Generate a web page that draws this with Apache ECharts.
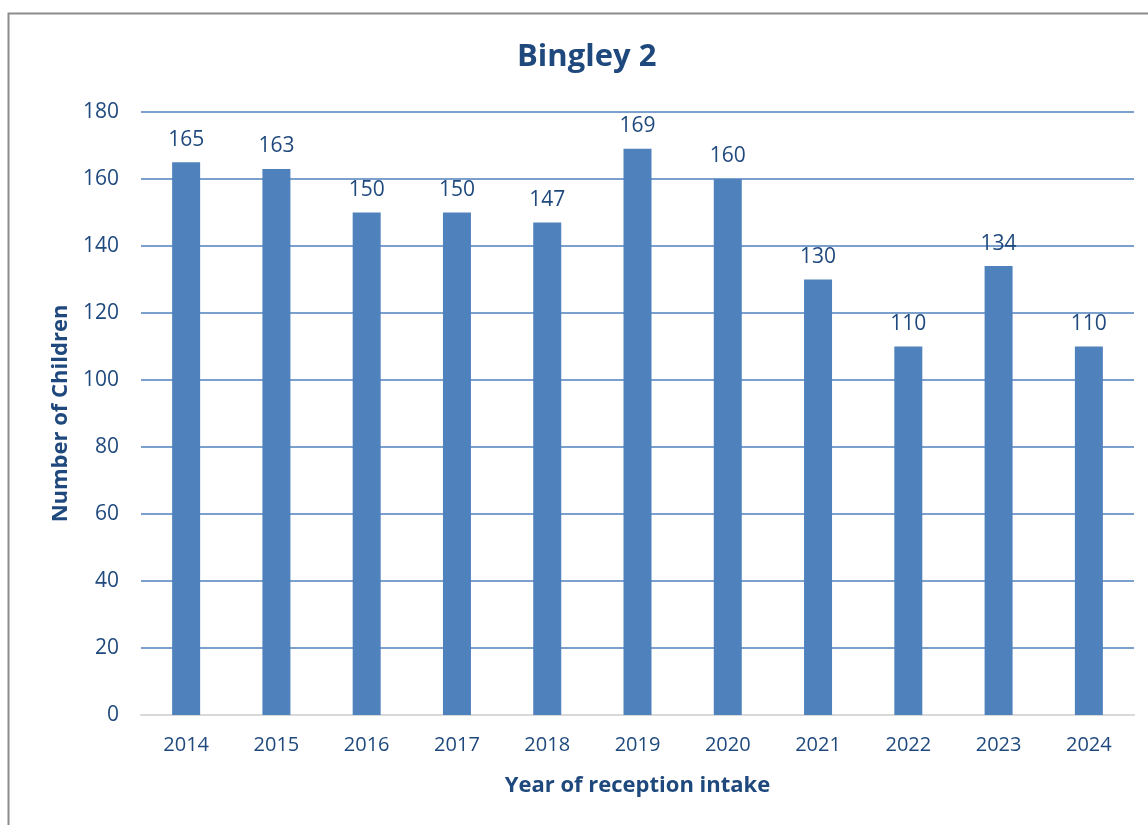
<!DOCTYPE html>
<html>
<head>
<meta charset="utf-8">
<script src="https://cdn.jsdelivr.net/npm/echarts@6/dist/echarts.min.js"></script>
<style>
  html, body { margin: 0; padding: 0; background: #fff; }
  #chart { width: 1148px; height: 825px; }
</style>
</head>
<body>
<div id="chart"></div>
<script>
// data
const years = ['2014', '2015', '2016', '2017', '2018', '2019', '2020', '2021', '2022', '2023', '2024'];
const children = [165, 163, 150, 150, 147, 169, 160, 130, 110, 134, 110];
const yTicks = [0, 20, 40, 60, 80, 100, 120, 140, 160, 180];

const textColor = '#1f497d';
const barColor = '#4f81bd';
const font = 'Open Sans';

const chart = echarts.init(document.getElementById('chart'));

const option = {
  backgroundColor: '#fff',
  animation: false,
  textStyle: { fontFamily: font },
  title: {
    text: 'Bingley 2',
    left: 512,
    top: 37,
    textStyle: { fontFamily: font, fontSize: 31, fontWeight: 'bold', color: textColor }
  },
  graphic: [
    {
      // outer chart frame (runs off the bottom and right edge)
      type: 'rect',
      shape: { x: 8.5, y: 13.5, width: 1200, height: 900 },
      style: { fill: null, stroke: '#8c8c8c', lineWidth: 2 },
      silent: true
    }
  ],
  grid: {
    left: 141,
    right: 14,
    top: 112,
    bottom: 110
  },
  xAxis: {
    type: 'category',
    data: years,
    name: 'Year of reception intake',
    nameLocation: 'middle',
    nameGap: 60,
    nameTextStyle: { fontFamily: font, fontSize: 22, fontWeight: 'bold', color: textColor },
    axisLine: { lineStyle: { color: '#d9d9d9', width: 2 } },
    axisTick: { show: false },
    axisLabel: { fontFamily: font, fontSize: 20, color: textColor, margin: 20 }
  },
  yAxis: {
    type: 'value',
    min: yTicks[0],
    max: yTicks[yTicks.length - 1],
    interval: yTicks[1] - yTicks[0],
    name: 'Number of Children',
    nameLocation: 'middle',
    nameGap: 69,
    nameTextStyle: { fontFamily: font, fontSize: 22, fontWeight: 'bold', color: textColor },
    axisLine: { show: false },
    axisTick: { show: false },
    axisLabel: { fontFamily: font, fontSize: 21, color: textColor, margin: 22 },
    splitLine: { lineStyle: { color: barColor, width: 1.5 } }
  },
  series: [
    {
      name: 'Children',
      type: 'bar',
      data: children,
      barWidth: 28,
      itemStyle: { color: barColor },
      label: {
        show: true,
        position: 'top',
        distance: 12,
        fontFamily: font,
        fontSize: 21,
        color: textColor
      }
    }
  ]
};

chart.setOption(option);
</script>
</body>
</html>
